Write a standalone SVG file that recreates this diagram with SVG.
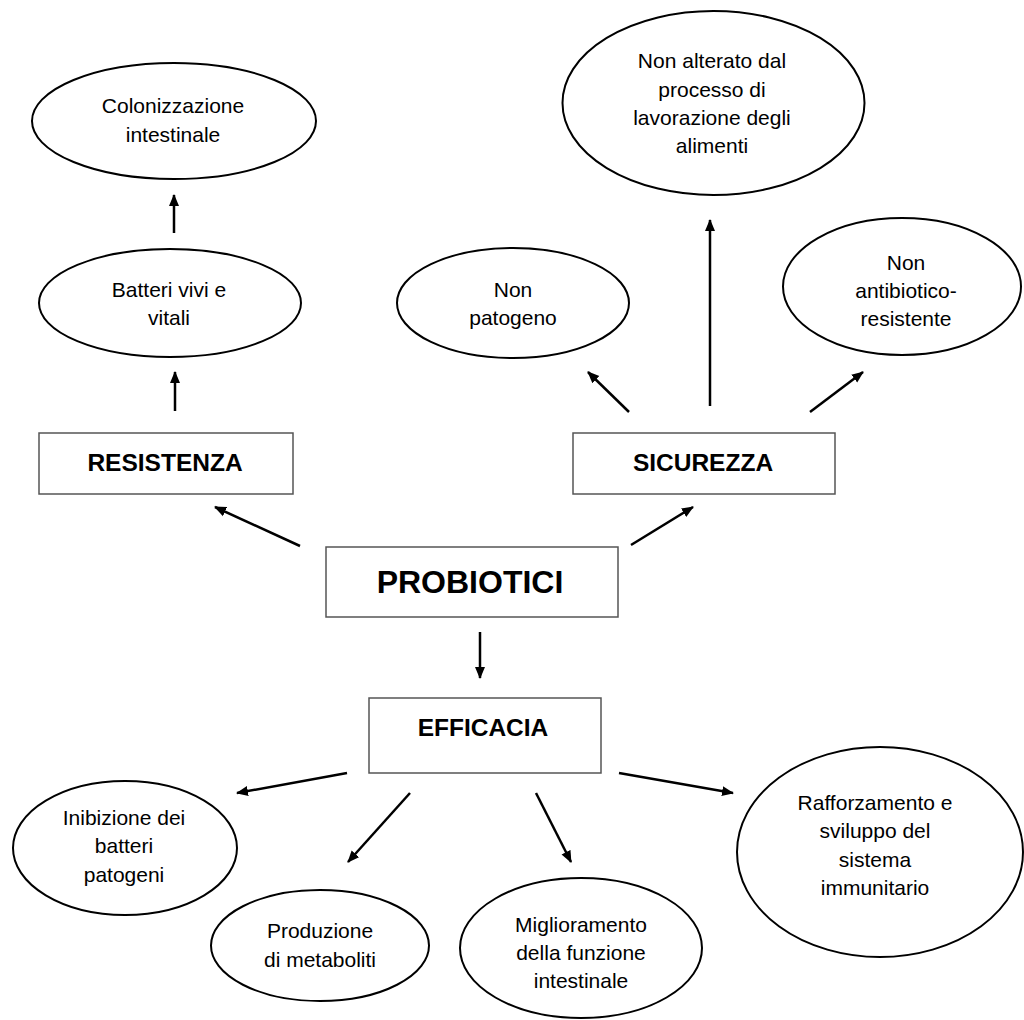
<svg xmlns="http://www.w3.org/2000/svg" width="1024" height="1020" viewBox="0 0 1024 1020">
<style>
.bg{fill:#ffffff}
.ell{fill:#ffffff;stroke:#000000;stroke-width:2}
.box{fill:#ffffff;stroke:#555555;stroke-width:1.5}
.t{font-family:"Liberation Sans",Arial,sans-serif;font-size:21px;fill:#000000;text-anchor:middle}
.b{font-family:"Liberation Sans",Arial,sans-serif;font-size:24.5px;font-weight:bold;fill:#000000;text-anchor:middle}
.big{font-size:32px}
.arr{stroke:#000000;stroke-width:2.5;fill:none;marker-end:url(#ah)}
</style>
<defs>
<marker id="ah" markerUnits="userSpaceOnUse" markerWidth="12" markerHeight="12" viewBox="0 0 12 12" refX="11" refY="6" orient="auto">
<path d="M0,1 L12,6 L0,11 z" fill="#000000"/>
</marker>
</defs>
<rect class="bg" x="0" y="0" width="1024" height="1020"/>

<g id="connectors">
<line class="arr" x1="174" y1="233" x2="174" y2="195"/>
<line class="arr" x1="175" y1="411" x2="175" y2="372"/>
<line class="arr" x1="629" y1="412" x2="588" y2="372"/>
<line class="arr" x1="710" y1="406" x2="710" y2="220"/>
<line class="arr" x1="810" y1="412" x2="863" y2="372"/>
<line class="arr" x1="300" y1="546" x2="215" y2="507"/>
<line class="arr" x1="631" y1="545" x2="693" y2="507"/>
<line class="arr" x1="480" y1="632" x2="480" y2="678"/>
<line class="arr" x1="347" y1="773" x2="237" y2="793"/>
<line class="arr" x1="410" y1="793" x2="348" y2="862"/>
<line class="arr" x1="536" y1="793" x2="571" y2="862"/>
<line class="arr" x1="619" y1="773" x2="733" y2="793"/>
</g>

<g id="colonizzazione">
<ellipse class="ell" cx="174" cy="121" rx="142" ry="58"/>
<text class="t" x="173" y="113">Colonizzazione</text>
<text class="t" x="173" y="142">intestinale</text>
</g>

<g id="batteri">
<ellipse class="ell" cx="170" cy="303" rx="131" ry="54"/>
<text class="t" x="169" y="297">Batteri vivi e</text>
<text class="t" x="169" y="325">vitali</text>
</g>

<g id="resistenza">
<rect class="box" x="39" y="433" width="254" height="61"/>
<text class="b" x="165" y="471">RESISTENZA</text>
</g>

<g id="non-alterato">
<ellipse class="ell" cx="713.5" cy="103" rx="151" ry="92"/>
<text class="t" x="712" y="68">Non alterato dal</text>
<text class="t" x="712" y="97">processo di</text>
<text class="t" x="712" y="125">lavorazione degli</text>
<text class="t" x="712" y="153">alimenti</text>
</g>

<g id="non-patogeno">
<ellipse class="ell" cx="513" cy="303" rx="116" ry="55"/>
<text class="t" x="513" y="297">Non</text>
<text class="t" x="513" y="325">patogeno</text>
</g>

<g id="non-antibiotico">
<ellipse class="ell" cx="902" cy="286.5" rx="119" ry="68.5"/>
<text class="t" x="906" y="270">Non</text>
<text class="t" x="906" y="298">antibiotico-</text>
<text class="t" x="906" y="326">resistente</text>
</g>

<g id="sicurezza">
<rect class="box" x="573" y="433" width="262" height="61"/>
<text class="b" x="703" y="471">SICUREZZA</text>
</g>

<g id="probiotici">
<rect class="box" x="326" y="547" width="292" height="70"/>
<text class="b big" x="470" y="593">PROBIOTICI</text>
</g>

<g id="efficacia">
<rect class="box" x="369" y="698" width="232" height="75"/>
<text class="b" x="483" y="736">EFFICACIA</text>
</g>

<g id="inibizione">
<ellipse class="ell" cx="125" cy="848" rx="112" ry="67"/>
<text class="t" x="124" y="825">Inibizione dei</text>
<text class="t" x="124" y="853">batteri</text>
<text class="t" x="124" y="882">patogeni</text>
</g>

<g id="produzione">
<ellipse class="ell" cx="320" cy="945.5" rx="109" ry="55.5"/>
<text class="t" x="320" y="938">Produzione</text>
<text class="t" x="320" y="967">di metaboliti</text>
</g>

<g id="miglioramento">
<ellipse class="ell" cx="581" cy="948" rx="121" ry="70"/>
<text class="t" x="581" y="932">Miglioramento</text>
<text class="t" x="581" y="960">della funzione</text>
<text class="t" x="581" y="988">intestinale</text>
</g>

<g id="rafforzamento">
<ellipse class="ell" cx="880" cy="852" rx="143" ry="105"/>
<text class="t" x="875" y="810">Rafforzamento e</text>
<text class="t" x="875" y="838">sviluppo del</text>
<text class="t" x="875" y="867">sistema</text>
<text class="t" x="875" y="895">immunitario</text>
</g>
</svg>
